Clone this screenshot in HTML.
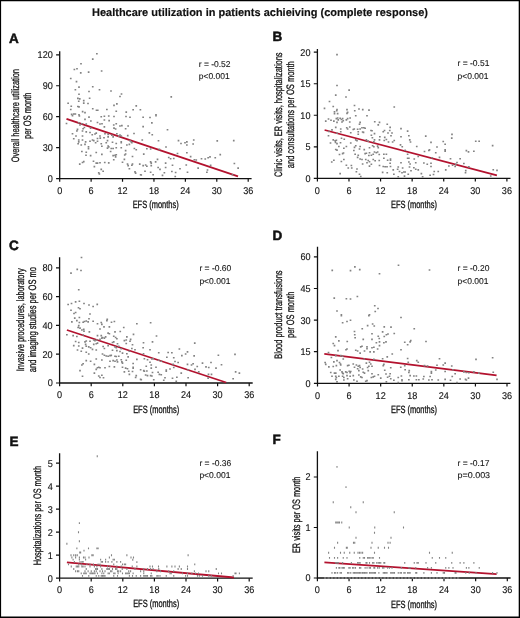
<!DOCTYPE html>
<html><head><meta charset="utf-8"><style>
html,body{margin:0;padding:0;background:#fff;}
svg{display:block;will-change:transform;}
text{font-family:"Liberation Sans", sans-serif;fill:#111;text-rendering:geometricPrecision;}
.s{stroke:#111;stroke-width:0.3px;}
.t{stroke:#222;stroke-width:0.1px;}
.d{stroke:#111;stroke-width:0.12px;}
</style></head><body>
<svg width="520" height="618" viewBox="0 0 520 618">
<rect width="520" height="618" fill="#fff"/>
<path d="M0 0H520V1.2H0zM0 0H1.1V618H0zM518.7 0H520V618H518.7zM0 616.5H520V618H0z" fill="#000"/>
<text x="92" y="16" font-size="11" font-weight="bold" stroke="#000" stroke-width="0.15" textLength="336" lengthAdjust="spacingAndGlyphs">Healthcare utilization in patients achieiving (complete response)</text>
<g><text x="9" y="42.7" font-size="13.5" font-weight="bold" stroke="#111" stroke-width="0.5">A</text><path d="M59.7 51.3V178.6H251.6" fill="none" stroke="#111" stroke-width="1.3"/><path d="M56.1 178.6H59.7M56.1 147.65H59.7M56.1 116.7H59.7M56.1 85.75H59.7M56.1 54.8H59.7M59.7 178.6V181.8M91.12 178.6V181.8M122.53 178.6V181.8M153.95 178.6V181.8M185.37 178.6V181.8M216.78 178.6V181.8M248.2 178.6V181.8" stroke="#111" stroke-width="1.2"/><text x="52.8" y="182" font-size="9.8" text-anchor="end" class="d" textLength="5.07" lengthAdjust="spacingAndGlyphs">0</text><text x="52.8" y="151.05" font-size="9.8" text-anchor="end" class="d" textLength="10.13" lengthAdjust="spacingAndGlyphs">30</text><text x="52.8" y="120.1" font-size="9.8" text-anchor="end" class="d" textLength="10.13" lengthAdjust="spacingAndGlyphs">60</text><text x="52.8" y="89.15" font-size="9.8" text-anchor="end" class="d" textLength="10.13" lengthAdjust="spacingAndGlyphs">90</text><text x="52.8" y="58.2" font-size="9.8" text-anchor="end" class="d" textLength="15.2" lengthAdjust="spacingAndGlyphs">120</text><text x="59.7" y="193.8" font-size="9.8" text-anchor="middle" class="d" textLength="5.07" lengthAdjust="spacingAndGlyphs">0</text><text x="91.12" y="193.8" font-size="9.8" text-anchor="middle" class="d" textLength="5.07" lengthAdjust="spacingAndGlyphs">6</text><text x="122.53" y="193.8" font-size="9.8" text-anchor="middle" class="d" textLength="10.13" lengthAdjust="spacingAndGlyphs">12</text><text x="153.95" y="193.8" font-size="9.8" text-anchor="middle" class="d" textLength="10.13" lengthAdjust="spacingAndGlyphs">18</text><text x="185.37" y="193.8" font-size="9.8" text-anchor="middle" class="d" textLength="10.13" lengthAdjust="spacingAndGlyphs">24</text><text x="216.78" y="193.8" font-size="9.8" text-anchor="middle" class="d" textLength="10.13" lengthAdjust="spacingAndGlyphs">30</text><text x="248.2" y="193.8" font-size="9.8" text-anchor="middle" class="d" textLength="10.13" lengthAdjust="spacingAndGlyphs">36</text><text x="155.65" y="208" font-size="10.5" text-anchor="middle" class="s" textLength="46" lengthAdjust="spacingAndGlyphs">EFS (months)</text><text transform="translate(18.8 115.65) rotate(-90)" x="0" y="0" font-size="10.8" text-anchor="middle" class="s" textLength="93.3" lengthAdjust="spacingAndGlyphs">Overall healthcare utilization</text><text transform="translate(30.9 115.75) rotate(-90)" x="0" y="0" font-size="10.8" text-anchor="middle" class="s" textLength="46.5" lengthAdjust="spacingAndGlyphs">per OS month</text><text x="198.7" y="66.8" font-size="8.5" class="t">r = -0.52</text><text x="198.7" y="78.8" font-size="8.5" class="t">p&lt;0.001</text><line x1="66.5" y1="118.8" x2="238" y2="176.3" stroke="#b3122e" stroke-width="1.8"/><path d="M96.03 52.9h1.7v1.7h-1.7zM91.9 58.27h1.7v1.7h-1.7zM80.15 62.9h1.7v1.7h-1.7zM73.53 68.65h1.7v1.7h-1.7zM76.15 67.9h1.7v1.7h-1.7zM79.9 72.03h1.7v1.7h-1.7zM87.77 71.27h1.7v1.7h-1.7zM100.77 70.15h1.7v1.7h-1.7zM69.9 77.65h1.7v1.7h-1.7zM75.65 80.77h1.7v1.7h-1.7zM78.15 86.27h1.7v1.7h-1.7zM91.9 85.9h1.7v1.7h-1.7zM74.53 88.9h1.7v1.7h-1.7zM98.65 88.9h1.7v1.7h-1.7zM88.15 90.65h1.7v1.7h-1.7zM110.15 90.15h1.7v1.7h-1.7zM120.65 93.15h1.7v1.7h-1.7zM119.15 95.65h1.7v1.7h-1.7zM78.15 93.4h1.7v1.7h-1.7zM77.03 97.53h1.7v1.7h-1.7zM78.9 98.03h1.7v1.7h-1.7zM88.77 97.4h1.7v1.7h-1.7zM67.27 102.4h1.7v1.7h-1.7zM77.9 100.4h1.7v1.7h-1.7zM82.9 99.77h1.7v1.7h-1.7zM82.9 102.27h1.7v1.7h-1.7zM87.15 102.65h1.7v1.7h-1.7zM70.4 105.4h1.7v1.7h-1.7zM77.03 105.65h1.7v1.7h-1.7zM78.15 106.03h1.7v1.7h-1.7zM113.15 104.53h1.7v1.7h-1.7zM116.03 103.03h1.7v1.7h-1.7zM91.9 107.9h1.7v1.7h-1.7zM95.65 109.4h1.7v1.7h-1.7zM96.9 109.4h1.7v1.7h-1.7zM106.03 108.65h1.7v1.7h-1.7zM69.9 108.65h1.7v1.7h-1.7zM81.77 110.77h1.7v1.7h-1.7zM84.15 111.77h1.7v1.7h-1.7zM115.4 110.4h1.7v1.7h-1.7zM70.77 113.53h1.7v1.7h-1.7zM72.9 113.15h1.7v1.7h-1.7zM74.53 113.15h1.7v1.7h-1.7zM78.15 113.9h1.7v1.7h-1.7zM170.4 96.03h1.7v1.7h-1.7zM135.4 105.03h1.7v1.7h-1.7zM132.27 108.9h1.7v1.7h-1.7zM139.53 108.9h1.7v1.7h-1.7zM125.4 111.27h1.7v1.7h-1.7zM155.15 113.9h1.7v1.7h-1.7zM78.53 115.15h1.7v1.7h-1.7zM88.15 116.27h1.7v1.7h-1.7zM100.4 115.9h1.7v1.7h-1.7zM103.53 115.4h1.7v1.7h-1.7zM107.9 115.15h1.7v1.7h-1.7zM113.15 115.65h1.7v1.7h-1.7zM71.65 114.77h1.7v1.7h-1.7zM84.15 118.53h1.7v1.7h-1.7zM90.03 120.15h1.7v1.7h-1.7zM103.53 119.15h1.7v1.7h-1.7zM108.27 119.77h1.7v1.7h-1.7zM65.65 122.65h1.7v1.7h-1.7zM77.9 121.9h1.7v1.7h-1.7zM79.15 124.15h1.7v1.7h-1.7zM81.03 122.9h1.7v1.7h-1.7zM85.4 123.15h1.7v1.7h-1.7zM96.65 121.65h1.7v1.7h-1.7zM99.15 123.15h1.7v1.7h-1.7zM101.15 122.9h1.7v1.7h-1.7zM112.9 124.15h1.7v1.7h-1.7zM115.4 122.9h1.7v1.7h-1.7zM119.15 125.15h1.7v1.7h-1.7zM121.03 124.77h1.7v1.7h-1.7zM76.65 128.53h1.7v1.7h-1.7zM76.03 130.15h1.7v1.7h-1.7zM82.27 127.9h1.7v1.7h-1.7zM83.53 126.65h1.7v1.7h-1.7zM81.65 130.15h1.7v1.7h-1.7zM89.77 127.27h1.7v1.7h-1.7zM103.53 126.03h1.7v1.7h-1.7zM113.15 127.27h1.7v1.7h-1.7zM114.77 128.15h1.7v1.7h-1.7zM71.65 132.9h1.7v1.7h-1.7zM85.4 131.03h1.7v1.7h-1.7zM89.15 131.65h1.7v1.7h-1.7zM95.4 132.27h1.7v1.7h-1.7zM94.15 133.15h1.7v1.7h-1.7zM104.15 132.9h1.7v1.7h-1.7zM107.27 133.53h1.7v1.7h-1.7zM116.03 132.9h1.7v1.7h-1.7zM119.15 134.15h1.7v1.7h-1.7zM120.4 135.15h1.7v1.7h-1.7zM75.15 135.15h1.7v1.7h-1.7zM72.9 137.9h1.7v1.7h-1.7zM81.65 135.15h1.7v1.7h-1.7zM91.4 133.9h1.7v1.7h-1.7zM99.15 135.15h1.7v1.7h-1.7zM96.65 137.65h1.7v1.7h-1.7zM99.4 137.27h1.7v1.7h-1.7zM103.15 136.9h1.7v1.7h-1.7zM107.27 136.03h1.7v1.7h-1.7zM111.03 134.4h1.7v1.7h-1.7zM112.27 136.03h1.7v1.7h-1.7zM117.9 135.4h1.7v1.7h-1.7zM77.9 139.15h1.7v1.7h-1.7zM81.65 139.15h1.7v1.7h-1.7zM77.9 141.03h1.7v1.7h-1.7zM84.77 141.03h1.7v1.7h-1.7zM89.15 140.4h1.7v1.7h-1.7zM91.65 139.15h1.7v1.7h-1.7zM92.9 139.77h1.7v1.7h-1.7zM96.65 140.4h1.7v1.7h-1.7zM106.65 139.77h1.7v1.7h-1.7zM120.4 141.03h1.7v1.7h-1.7zM77.27 142.9h1.7v1.7h-1.7zM80.4 144.15h1.7v1.7h-1.7zM84.15 143.53h1.7v1.7h-1.7zM94.77 141.9h1.7v1.7h-1.7zM100.4 142.9h1.7v1.7h-1.7zM105.4 141.9h1.7v1.7h-1.7zM111.65 141.4h1.7v1.7h-1.7zM115.4 142.65h1.7v1.7h-1.7zM120.4 141.9h1.7v1.7h-1.7zM87.65 146.03h1.7v1.7h-1.7zM87.65 147.9h1.7v1.7h-1.7zM101.03 145.4h1.7v1.7h-1.7zM106.65 147.27h1.7v1.7h-1.7zM107.9 146.03h1.7v1.7h-1.7zM107.27 145.15h1.7v1.7h-1.7zM110.4 147.65h1.7v1.7h-1.7zM112.27 147.65h1.7v1.7h-1.7zM115.4 146.9h1.7v1.7h-1.7zM120.4 146.9h1.7v1.7h-1.7zM81.03 150.65h1.7v1.7h-1.7zM85.4 151.4h1.7v1.7h-1.7zM95.4 151.65h1.7v1.7h-1.7zM109.77 150.65h1.7v1.7h-1.7zM85.15 154.4h1.7v1.7h-1.7zM89.77 154.77h1.7v1.7h-1.7zM101.03 153.53h1.7v1.7h-1.7zM112.27 154.77h1.7v1.7h-1.7zM114.15 154.4h1.7v1.7h-1.7zM115.4 153.9h1.7v1.7h-1.7zM114.77 156.03h1.7v1.7h-1.7zM123.9 154.15h1.7v1.7h-1.7zM112.9 158.9h1.7v1.7h-1.7zM123.53 158.53h1.7v1.7h-1.7zM78.9 163.27h1.7v1.7h-1.7zM81.65 161.65h1.7v1.7h-1.7zM82.9 160.77h1.7v1.7h-1.7zM92.65 160.4h1.7v1.7h-1.7zM95.4 162.27h1.7v1.7h-1.7zM96.65 162.27h1.7v1.7h-1.7zM99.15 161.9h1.7v1.7h-1.7zM103.9 161.65h1.7v1.7h-1.7zM107.9 162.03h1.7v1.7h-1.7zM121.65 161.4h1.7v1.7h-1.7zM93.53 165.77h1.7v1.7h-1.7zM100.4 168.53h1.7v1.7h-1.7zM102.27 170.4h1.7v1.7h-1.7zM97.9 171.9h1.7v1.7h-1.7zM98.53 173.15h1.7v1.7h-1.7zM125.15 115.65h1.7v1.7h-1.7zM129.15 116.4h1.7v1.7h-1.7zM142.27 116.4h1.7v1.7h-1.7zM149.15 116.65h1.7v1.7h-1.7zM155.15 114.77h1.7v1.7h-1.7zM151.03 122.03h1.7v1.7h-1.7zM127.27 125.15h1.7v1.7h-1.7zM142.27 125.77h1.7v1.7h-1.7zM124.77 127.9h1.7v1.7h-1.7zM166.65 128.9h1.7v1.7h-1.7zM133.15 132.65h1.7v1.7h-1.7zM148.53 132.03h1.7v1.7h-1.7zM151.4 133.9h1.7v1.7h-1.7zM126.9 134.77h1.7v1.7h-1.7zM141.4 139.15h1.7v1.7h-1.7zM157.65 139.9h1.7v1.7h-1.7zM177.65 139.77h1.7v1.7h-1.7zM180.15 142.65h1.7v1.7h-1.7zM184.15 141.9h1.7v1.7h-1.7zM186.03 141.03h1.7v1.7h-1.7zM186.03 144.15h1.7v1.7h-1.7zM129.15 139.77h1.7v1.7h-1.7zM130.4 141.03h1.7v1.7h-1.7zM131.03 141.9h1.7v1.7h-1.7zM126.03 144.15h1.7v1.7h-1.7zM128.53 143.53h1.7v1.7h-1.7zM133.53 147.65h1.7v1.7h-1.7zM135.4 148.9h1.7v1.7h-1.7zM146.03 147.9h1.7v1.7h-1.7zM149.77 148.15h1.7v1.7h-1.7zM158.53 148.53h1.7v1.7h-1.7zM165.15 146.15h1.7v1.7h-1.7zM124.77 149.77h1.7v1.7h-1.7zM142.9 153.27h1.7v1.7h-1.7zM124.77 153.15h1.7v1.7h-1.7zM131.65 155.65h1.7v1.7h-1.7zM176.65 152.65h1.7v1.7h-1.7zM186.03 151.9h1.7v1.7h-1.7zM167.9 156.65h1.7v1.7h-1.7zM169.77 157.9h1.7v1.7h-1.7zM172.9 157.65h1.7v1.7h-1.7zM156.65 158.53h1.7v1.7h-1.7zM154.77 161.03h1.7v1.7h-1.7zM149.77 161.03h1.7v1.7h-1.7zM150.4 162.27h1.7v1.7h-1.7zM126.65 163.15h1.7v1.7h-1.7zM131.65 163.15h1.7v1.7h-1.7zM127.27 164.77h1.7v1.7h-1.7zM131.03 164.4h1.7v1.7h-1.7zM138.9 163.27h1.7v1.7h-1.7zM142.27 164.77h1.7v1.7h-1.7zM144.77 164.15h1.7v1.7h-1.7zM146.03 165.4h1.7v1.7h-1.7zM150.4 164.77h1.7v1.7h-1.7zM164.77 162.27h1.7v1.7h-1.7zM171.65 164.4h1.7v1.7h-1.7zM185.4 164.15h1.7v1.7h-1.7zM128.53 167.9h1.7v1.7h-1.7zM157.27 166.65h1.7v1.7h-1.7zM164.77 166.65h1.7v1.7h-1.7zM159.15 168.53h1.7v1.7h-1.7zM179.15 167.9h1.7v1.7h-1.7zM134.15 171.03h1.7v1.7h-1.7zM134.77 172.27h1.7v1.7h-1.7zM144.15 170.4h1.7v1.7h-1.7zM149.77 171.4h1.7v1.7h-1.7zM163.53 171.9h1.7v1.7h-1.7zM171.03 170.65h1.7v1.7h-1.7zM174.77 171.65h1.7v1.7h-1.7zM186.65 171.4h1.7v1.7h-1.7zM139.77 173.9h1.7v1.7h-1.7zM140.4 174.15h1.7v1.7h-1.7zM161.65 174.53h1.7v1.7h-1.7zM174.4 175.65h1.7v1.7h-1.7zM152.27 173.9h1.7v1.7h-1.7zM192.9 139.15h1.7v1.7h-1.7zM192.27 143.15h1.7v1.7h-1.7zM216.4 140.03h1.7v1.7h-1.7zM232.9 139.77h1.7v1.7h-1.7zM189.77 155.77h1.7v1.7h-1.7zM193.53 158.9h1.7v1.7h-1.7zM195.4 159.15h1.7v1.7h-1.7zM200.65 157.9h1.7v1.7h-1.7zM204.4 158.15h1.7v1.7h-1.7zM207.27 156.9h1.7v1.7h-1.7zM209.15 156.03h1.7v1.7h-1.7zM214.4 156.9h1.7v1.7h-1.7zM219.4 153.77h1.7v1.7h-1.7zM197.27 167.27h1.7v1.7h-1.7zM206.65 169.15h1.7v1.7h-1.7zM206.03 171.4h1.7v1.7h-1.7zM209.77 164.53h1.7v1.7h-1.7zM233.53 162.65h1.7v1.7h-1.7zM237.27 167.27h1.7v1.7h-1.7zM231.65 173.9h1.7v1.7h-1.7z" fill="#838383"/></g>
<g><text x="272.6" y="40.5" font-size="13.5" font-weight="bold" stroke="#111" stroke-width="0.5">B</text><path d="M317.4 49.1V178.3H510.5" fill="none" stroke="#111" stroke-width="1.3"/><path d="M313.8 178.3H317.4M313.8 146.78H317.4M313.8 115.25H317.4M313.8 83.73H317.4M313.8 52.2H317.4M317.4 178.3V181.5M348.98 178.3V181.5M380.57 178.3V181.5M412.15 178.3V181.5M443.73 178.3V181.5M475.32 178.3V181.5M506.9 178.3V181.5" stroke="#111" stroke-width="1.2"/><text x="310.5" y="181.7" font-size="9.8" text-anchor="end" class="d" textLength="5.07" lengthAdjust="spacingAndGlyphs">0</text><text x="310.5" y="150.18" font-size="9.8" text-anchor="end" class="d" textLength="5.07" lengthAdjust="spacingAndGlyphs">5</text><text x="310.5" y="118.65" font-size="9.8" text-anchor="end" class="d" textLength="10.13" lengthAdjust="spacingAndGlyphs">10</text><text x="310.5" y="87.13" font-size="9.8" text-anchor="end" class="d" textLength="10.13" lengthAdjust="spacingAndGlyphs">15</text><text x="310.5" y="55.6" font-size="9.8" text-anchor="end" class="d" textLength="10.13" lengthAdjust="spacingAndGlyphs">20</text><text x="317.4" y="193.5" font-size="9.8" text-anchor="middle" class="d" textLength="5.07" lengthAdjust="spacingAndGlyphs">0</text><text x="348.98" y="193.5" font-size="9.8" text-anchor="middle" class="d" textLength="5.07" lengthAdjust="spacingAndGlyphs">6</text><text x="380.57" y="193.5" font-size="9.8" text-anchor="middle" class="d" textLength="10.13" lengthAdjust="spacingAndGlyphs">12</text><text x="412.15" y="193.5" font-size="9.8" text-anchor="middle" class="d" textLength="10.13" lengthAdjust="spacingAndGlyphs">18</text><text x="443.73" y="193.5" font-size="9.8" text-anchor="middle" class="d" textLength="10.13" lengthAdjust="spacingAndGlyphs">24</text><text x="475.32" y="193.5" font-size="9.8" text-anchor="middle" class="d" textLength="10.13" lengthAdjust="spacingAndGlyphs">30</text><text x="506.9" y="193.5" font-size="9.8" text-anchor="middle" class="d" textLength="10.13" lengthAdjust="spacingAndGlyphs">36</text><text x="413.95" y="207.8" font-size="10.5" text-anchor="middle" class="s" textLength="46" lengthAdjust="spacingAndGlyphs">EFS (months)</text><text transform="translate(281.8 114.75) rotate(-90)" x="0" y="0" font-size="10.8" text-anchor="middle" class="s" textLength="124.5" lengthAdjust="spacingAndGlyphs">Clinic visits, ER visits, hospitalizations</text><text transform="translate(293.9 114.75) rotate(-90)" x="0" y="0" font-size="10.8" text-anchor="middle" class="s" textLength="106.9" lengthAdjust="spacingAndGlyphs">and consultations per OS month</text><text x="457.5" y="66.1" font-size="8.5" class="t">r = -0.51</text><text x="457.5" y="78.8" font-size="8.5" class="t">p&lt;0.001</text><line x1="324.6" y1="130" x2="496.9" y2="175.4" stroke="#b3122e" stroke-width="1.8"/><path d="M336.15 53.77h1.7v1.7h-1.7zM336.15 84.65h1.7v1.7h-1.7zM348.27 89.27h1.7v1.7h-1.7zM334.9 94.27h1.7v1.7h-1.7zM345.15 96.15h1.7v1.7h-1.7zM328.65 100.65h1.7v1.7h-1.7zM332.4 105.65h1.7v1.7h-1.7zM353.65 104.65h1.7v1.7h-1.7zM323.65 107.53h1.7v1.7h-1.7zM336.15 108.65h1.7v1.7h-1.7zM335.9 109.9h1.7v1.7h-1.7zM333.65 110.9h1.7v1.7h-1.7zM346.15 108.77h1.7v1.7h-1.7zM346.77 111.53h1.7v1.7h-1.7zM353.9 109.9h1.7v1.7h-1.7zM358.15 108.15h1.7v1.7h-1.7zM361.9 108.77h1.7v1.7h-1.7zM368.15 109.27h1.7v1.7h-1.7zM393.4 106.15h1.7v1.7h-1.7zM457.4 79.4h1.7v1.7h-1.7zM451.15 133.53h1.7v1.7h-1.7zM450.9 137.27h1.7v1.7h-1.7zM474.9 140.4h1.7v1.7h-1.7zM478.27 140.4h1.7v1.7h-1.7zM333.65 112.77h1.7v1.7h-1.7zM336.77 112.77h1.7v1.7h-1.7zM346.15 112.53h1.7v1.7h-1.7zM354.9 114.9h1.7v1.7h-1.7zM366.15 114.9h1.7v1.7h-1.7zM324.9 120.27h1.7v1.7h-1.7zM327.65 118.15h1.7v1.7h-1.7zM330.15 119.4h1.7v1.7h-1.7zM333.03 120.27h1.7v1.7h-1.7zM335.53 117.77h1.7v1.7h-1.7zM336.77 117.15h1.7v1.7h-1.7zM337.4 119.03h1.7v1.7h-1.7zM339.27 117.4h1.7v1.7h-1.7zM340.53 118.65h1.7v1.7h-1.7zM341.77 117.77h1.7v1.7h-1.7zM342.4 119.9h1.7v1.7h-1.7zM341.15 121.15h1.7v1.7h-1.7zM345.53 119.03h1.7v1.7h-1.7zM346.77 117.77h1.7v1.7h-1.7zM349.27 117.15h1.7v1.7h-1.7zM348.9 121.15h1.7v1.7h-1.7zM336.15 121.53h1.7v1.7h-1.7zM359.27 121.53h1.7v1.7h-1.7zM358.65 123.4h1.7v1.7h-1.7zM373.9 120.9h1.7v1.7h-1.7zM377.4 124.03h1.7v1.7h-1.7zM378.65 121.53h1.7v1.7h-1.7zM334.9 126.53h1.7v1.7h-1.7zM331.15 129.03h1.7v1.7h-1.7zM339.9 128.15h1.7v1.7h-1.7zM345.9 126.9h1.7v1.7h-1.7zM346.77 128.15h1.7v1.7h-1.7zM348.9 126.15h1.7v1.7h-1.7zM352.4 128.65h1.7v1.7h-1.7zM353.4 128.15h1.7v1.7h-1.7zM356.77 128.4h1.7v1.7h-1.7zM357.4 130.9h1.7v1.7h-1.7zM359.27 128.15h1.7v1.7h-1.7zM361.15 126.9h1.7v1.7h-1.7zM363.03 126.9h1.7v1.7h-1.7zM364.27 127.4h1.7v1.7h-1.7zM361.77 131.15h1.7v1.7h-1.7zM362.65 131.53h1.7v1.7h-1.7zM370.15 129.65h1.7v1.7h-1.7zM371.15 129.9h1.7v1.7h-1.7zM328.03 130.65h1.7v1.7h-1.7zM336.15 132.4h1.7v1.7h-1.7zM339.9 130.9h1.7v1.7h-1.7zM349.9 131.9h1.7v1.7h-1.7zM327.65 134.9h1.7v1.7h-1.7zM340.65 137.4h1.7v1.7h-1.7zM343.4 138.4h1.7v1.7h-1.7zM370.53 134.4h1.7v1.7h-1.7zM373.65 132.77h1.7v1.7h-1.7zM371.53 136.9h1.7v1.7h-1.7zM379.03 135.9h1.7v1.7h-1.7zM357.4 133.4h1.7v1.7h-1.7zM332.4 139.03h1.7v1.7h-1.7zM334.27 139.9h1.7v1.7h-1.7zM335.53 139.4h1.7v1.7h-1.7zM334.65 141.53h1.7v1.7h-1.7zM336.15 142.77h1.7v1.7h-1.7zM329.65 142.15h1.7v1.7h-1.7zM339.65 141.9h1.7v1.7h-1.7zM349.9 142.15h1.7v1.7h-1.7zM354.9 139.03h1.7v1.7h-1.7zM356.15 139.9h1.7v1.7h-1.7zM365.53 139.03h1.7v1.7h-1.7zM367.4 140.27h1.7v1.7h-1.7zM373.65 139.03h1.7v1.7h-1.7zM373.03 140.9h1.7v1.7h-1.7zM378.65 139.03h1.7v1.7h-1.7zM338.03 145.65h1.7v1.7h-1.7zM343.03 147.4h1.7v1.7h-1.7zM345.53 145.65h1.7v1.7h-1.7zM353.65 146.53h1.7v1.7h-1.7zM354.9 144.9h1.7v1.7h-1.7zM359.27 145.65h1.7v1.7h-1.7zM358.65 148.15h1.7v1.7h-1.7zM363.4 148.77h1.7v1.7h-1.7zM368.65 146.9h1.7v1.7h-1.7zM371.77 144.9h1.7v1.7h-1.7zM373.03 145.9h1.7v1.7h-1.7zM376.77 145.27h1.7v1.7h-1.7zM377.4 146.9h1.7v1.7h-1.7zM334.9 148.65h1.7v1.7h-1.7zM336.15 149.27h1.7v1.7h-1.7zM353.03 149.65h1.7v1.7h-1.7zM338.65 153.65h1.7v1.7h-1.7zM341.77 152.77h1.7v1.7h-1.7zM342.65 152.15h1.7v1.7h-1.7zM354.27 153.4h1.7v1.7h-1.7zM357.4 154.4h1.7v1.7h-1.7zM364.27 152.77h1.7v1.7h-1.7zM365.53 152.4h1.7v1.7h-1.7zM368.65 151.9h1.7v1.7h-1.7zM370.53 154.4h1.7v1.7h-1.7zM372.4 153.4h1.7v1.7h-1.7zM373.65 151.15h1.7v1.7h-1.7zM375.53 151.9h1.7v1.7h-1.7zM376.77 151.15h1.7v1.7h-1.7zM378.4 153.65h1.7v1.7h-1.7zM368.03 154.65h1.7v1.7h-1.7zM356.77 156.53h1.7v1.7h-1.7zM359.27 158.15h1.7v1.7h-1.7zM361.15 158.65h1.7v1.7h-1.7zM364.9 158.65h1.7v1.7h-1.7zM367.4 159.65h1.7v1.7h-1.7zM372.4 158.65h1.7v1.7h-1.7zM374.27 159.9h1.7v1.7h-1.7zM378.4 159.65h1.7v1.7h-1.7zM343.03 158.65h1.7v1.7h-1.7zM340.53 160.65h1.7v1.7h-1.7zM330.9 161.15h1.7v1.7h-1.7zM333.03 159.4h1.7v1.7h-1.7zM366.15 161.9h1.7v1.7h-1.7zM368.65 160.9h1.7v1.7h-1.7zM361.77 163.15h1.7v1.7h-1.7zM370.53 163.4h1.7v1.7h-1.7zM345.53 164.4h1.7v1.7h-1.7zM347.4 167.15h1.7v1.7h-1.7zM350.53 164.65h1.7v1.7h-1.7zM350.9 167.15h1.7v1.7h-1.7zM356.15 168.15h1.7v1.7h-1.7zM355.53 170.9h1.7v1.7h-1.7zM358.65 173.4h1.7v1.7h-1.7zM359.9 175.65h1.7v1.7h-1.7zM339.27 172.77h1.7v1.7h-1.7zM368.65 165.27h1.7v1.7h-1.7zM378.65 164.65h1.7v1.7h-1.7zM386.4 123.4h1.7v1.7h-1.7zM389.27 126.53h1.7v1.7h-1.7zM382.4 130.9h1.7v1.7h-1.7zM383.65 129.65h1.7v1.7h-1.7zM387.15 132.15h1.7v1.7h-1.7zM388.9 129.65h1.7v1.7h-1.7zM391.15 132.15h1.7v1.7h-1.7zM390.15 134.9h1.7v1.7h-1.7zM383.9 136.53h1.7v1.7h-1.7zM383.4 139.65h1.7v1.7h-1.7zM385.53 138.65h1.7v1.7h-1.7zM387.65 141.15h1.7v1.7h-1.7zM391.77 141.15h1.7v1.7h-1.7zM393.4 139.65h1.7v1.7h-1.7zM400.15 127.77h1.7v1.7h-1.7zM400.15 135.9h1.7v1.7h-1.7zM406.77 130.27h1.7v1.7h-1.7zM408.03 134.9h1.7v1.7h-1.7zM408.9 139.03h1.7v1.7h-1.7zM409.65 141.15h1.7v1.7h-1.7zM424.9 135.27h1.7v1.7h-1.7zM399.65 144.03h1.7v1.7h-1.7zM401.4 145.9h1.7v1.7h-1.7zM404.27 149.4h1.7v1.7h-1.7zM415.9 145.65h1.7v1.7h-1.7zM430.15 141.53h1.7v1.7h-1.7zM436.15 146.15h1.7v1.7h-1.7zM442.4 140.65h1.7v1.7h-1.7zM444.27 143.4h1.7v1.7h-1.7zM444.27 149.03h1.7v1.7h-1.7zM444.27 150.27h1.7v1.7h-1.7zM423.65 150.65h1.7v1.7h-1.7zM428.03 149.65h1.7v1.7h-1.7zM428.65 149.03h1.7v1.7h-1.7zM434.9 151.9h1.7v1.7h-1.7zM406.77 153.4h1.7v1.7h-1.7zM417.4 155.65h1.7v1.7h-1.7zM438.65 156.53h1.7v1.7h-1.7zM431.15 156.9h1.7v1.7h-1.7zM383.03 153.4h1.7v1.7h-1.7zM385.53 153.4h1.7v1.7h-1.7zM383.03 157.4h1.7v1.7h-1.7zM386.77 159.4h1.7v1.7h-1.7zM389.65 158.15h1.7v1.7h-1.7zM389.65 159.4h1.7v1.7h-1.7zM406.77 157.4h1.7v1.7h-1.7zM408.03 157.4h1.7v1.7h-1.7zM413.4 158.15h1.7v1.7h-1.7zM400.15 161.9h1.7v1.7h-1.7zM408.03 161.15h1.7v1.7h-1.7zM409.27 163.15h1.7v1.7h-1.7zM414.9 161.9h1.7v1.7h-1.7zM423.03 162.15h1.7v1.7h-1.7zM426.4 163.4h1.7v1.7h-1.7zM430.15 162.4h1.7v1.7h-1.7zM430.15 165.65h1.7v1.7h-1.7zM389.27 162.4h1.7v1.7h-1.7zM389.65 165.65h1.7v1.7h-1.7zM382.4 165.65h1.7v1.7h-1.7zM384.27 165.9h1.7v1.7h-1.7zM386.15 165.9h1.7v1.7h-1.7zM397.4 166.15h1.7v1.7h-1.7zM396.77 168.4h1.7v1.7h-1.7zM401.77 167.15h1.7v1.7h-1.7zM408.65 166.15h1.7v1.7h-1.7zM413.03 166.9h1.7v1.7h-1.7zM414.9 168.4h1.7v1.7h-1.7zM417.4 169.03h1.7v1.7h-1.7zM392.4 169.03h1.7v1.7h-1.7zM398.65 170.65h1.7v1.7h-1.7zM401.15 171.9h1.7v1.7h-1.7zM403.03 171.15h1.7v1.7h-1.7zM404.27 171.15h1.7v1.7h-1.7zM410.15 169.9h1.7v1.7h-1.7zM433.4 170.65h1.7v1.7h-1.7zM437.4 170.65h1.7v1.7h-1.7zM444.9 169.03h1.7v1.7h-1.7zM381.77 171.53h1.7v1.7h-1.7zM386.4 171.9h1.7v1.7h-1.7zM393.03 173.4h1.7v1.7h-1.7zM407.4 173.4h1.7v1.7h-1.7zM403.65 175.27h1.7v1.7h-1.7zM397.4 175.9h1.7v1.7h-1.7zM420.53 172.77h1.7v1.7h-1.7zM421.77 175.9h1.7v1.7h-1.7zM429.27 174.4h1.7v1.7h-1.7zM432.65 173.65h1.7v1.7h-1.7zM491.77 144.77h1.7v1.7h-1.7zM465.53 149.77h1.7v1.7h-1.7zM467.65 151.03h1.7v1.7h-1.7zM473.03 150.4h1.7v1.7h-1.7zM449.65 157.9h1.7v1.7h-1.7zM459.27 157.9h1.7v1.7h-1.7zM463.03 162.65h1.7v1.7h-1.7zM448.03 165.15h1.7v1.7h-1.7zM451.77 164.4h1.7v1.7h-1.7zM454.27 165.65h1.7v1.7h-1.7zM456.15 161.65h1.7v1.7h-1.7zM454.9 163.53h1.7v1.7h-1.7zM468.03 166.03h1.7v1.7h-1.7zM464.9 169.77h1.7v1.7h-1.7zM464.65 171.9h1.7v1.7h-1.7zM492.4 168.9h1.7v1.7h-1.7zM496.15 169.53h1.7v1.7h-1.7zM489.9 175.15h1.7v1.7h-1.7z" fill="#838383"/></g>
<g><text x="9" y="249.9" font-size="13.5" font-weight="bold" stroke="#111" stroke-width="0.5">C</text><path d="M59.6 257.2V383H252.7" fill="none" stroke="#111" stroke-width="1.3"/><path d="M56 383H59.6M56 354.2H59.6M56 325.4H59.6M56 296.6H59.6M56 267.8H59.6M59.6 383V386.2M91.2 383V386.2M122.8 383V386.2M154.4 383V386.2M186 383V386.2M217.6 383V386.2M249.2 383V386.2" stroke="#111" stroke-width="1.2"/><text x="52.7" y="386.4" font-size="9.8" text-anchor="end" class="d" textLength="5.07" lengthAdjust="spacingAndGlyphs">0</text><text x="52.7" y="357.6" font-size="9.8" text-anchor="end" class="d" textLength="10.13" lengthAdjust="spacingAndGlyphs">20</text><text x="52.7" y="328.8" font-size="9.8" text-anchor="end" class="d" textLength="10.13" lengthAdjust="spacingAndGlyphs">40</text><text x="52.7" y="300" font-size="9.8" text-anchor="end" class="d" textLength="10.13" lengthAdjust="spacingAndGlyphs">60</text><text x="52.7" y="271.2" font-size="9.8" text-anchor="end" class="d" textLength="10.13" lengthAdjust="spacingAndGlyphs">80</text><text x="59.6" y="398.2" font-size="9.8" text-anchor="middle" class="d" textLength="5.07" lengthAdjust="spacingAndGlyphs">0</text><text x="91.2" y="398.2" font-size="9.8" text-anchor="middle" class="d" textLength="5.07" lengthAdjust="spacingAndGlyphs">6</text><text x="122.8" y="398.2" font-size="9.8" text-anchor="middle" class="d" textLength="10.13" lengthAdjust="spacingAndGlyphs">12</text><text x="154.4" y="398.2" font-size="9.8" text-anchor="middle" class="d" textLength="10.13" lengthAdjust="spacingAndGlyphs">18</text><text x="186" y="398.2" font-size="9.8" text-anchor="middle" class="d" textLength="10.13" lengthAdjust="spacingAndGlyphs">24</text><text x="217.6" y="398.2" font-size="9.8" text-anchor="middle" class="d" textLength="10.13" lengthAdjust="spacingAndGlyphs">30</text><text x="249.2" y="398.2" font-size="9.8" text-anchor="middle" class="d" textLength="10.13" lengthAdjust="spacingAndGlyphs">36</text><text x="156.15" y="413" font-size="10.5" text-anchor="middle" class="s" textLength="46" lengthAdjust="spacingAndGlyphs">EFS (months)</text><text transform="translate(23.8 319.8) rotate(-90)" x="0" y="0" font-size="10.8" text-anchor="middle" class="s" textLength="102.8" lengthAdjust="spacingAndGlyphs">Invasive procedures, laboratory</text><text transform="translate(35.9 319.65) rotate(-90)" x="0" y="0" font-size="10.8" text-anchor="middle" class="s" textLength="105.1" lengthAdjust="spacingAndGlyphs">and imaging studies per OS mo</text><text x="199.4" y="270.7" font-size="8.5" class="t">r = -0.60</text><text x="199.4" y="283.7" font-size="8.5" class="t">p&lt;0.001</text><line x1="66.9" y1="330" x2="226.2" y2="382.5" stroke="#b3122e" stroke-width="1.8"/><path d="M80.65 256.65h1.7v1.7h-1.7zM76.4 268.53h1.7v1.7h-1.7zM80.15 269.65h1.7v1.7h-1.7zM70.15 272.27h1.7v1.7h-1.7zM77.9 288.9h1.7v1.7h-1.7zM67.27 303.65h1.7v1.7h-1.7zM70.65 302.65h1.7v1.7h-1.7zM74.77 301.03h1.7v1.7h-1.7zM78.53 300.4h1.7v1.7h-1.7zM83.15 302.65h1.7v1.7h-1.7zM88.15 304.15h1.7v1.7h-1.7zM92.27 305.65h1.7v1.7h-1.7zM96.4 303.53h1.7v1.7h-1.7zM77.65 306.9h1.7v1.7h-1.7zM79.15 307.9h1.7v1.7h-1.7zM70.15 309.4h1.7v1.7h-1.7zM73.15 312.65h1.7v1.7h-1.7zM74.77 311.65h1.7v1.7h-1.7zM89.15 313.15h1.7v1.7h-1.7zM73.9 317.27h1.7v1.7h-1.7zM78.53 316.65h1.7v1.7h-1.7zM88.15 317.9h1.7v1.7h-1.7zM106.4 318.53h1.7v1.7h-1.7zM71.03 321.03h1.7v1.7h-1.7zM76.03 319.77h1.7v1.7h-1.7zM78.53 321.65h1.7v1.7h-1.7zM82.27 321.4h1.7v1.7h-1.7zM83.53 320.65h1.7v1.7h-1.7zM85.4 320.15h1.7v1.7h-1.7zM87.27 321.03h1.7v1.7h-1.7zM92.27 320.4h1.7v1.7h-1.7zM96.65 322.9h1.7v1.7h-1.7zM100.4 321.65h1.7v1.7h-1.7zM101.03 323.53h1.7v1.7h-1.7zM106.03 319.77h1.7v1.7h-1.7zM110.65 321.4h1.7v1.7h-1.7zM113.53 320.65h1.7v1.7h-1.7zM77.9 324.77h1.7v1.7h-1.7zM77.27 326.65h1.7v1.7h-1.7zM79.15 327.27h1.7v1.7h-1.7zM81.03 329.15h1.7v1.7h-1.7zM82.9 328.53h1.7v1.7h-1.7zM83.15 330.4h1.7v1.7h-1.7zM88.53 331.03h1.7v1.7h-1.7zM99.15 328.15h1.7v1.7h-1.7zM103.15 326.03h1.7v1.7h-1.7zM108.53 326.03h1.7v1.7h-1.7zM114.15 331.03h1.7v1.7h-1.7zM119.4 330.65h1.7v1.7h-1.7zM122.9 326.65h1.7v1.7h-1.7zM66.03 333.9h1.7v1.7h-1.7zM72.27 334.77h1.7v1.7h-1.7zM76.03 335.65h1.7v1.7h-1.7zM82.27 334.15h1.7v1.7h-1.7zM96.65 334.77h1.7v1.7h-1.7zM100.4 334.77h1.7v1.7h-1.7zM101.65 336.65h1.7v1.7h-1.7zM103.53 337.27h1.7v1.7h-1.7zM104.77 336.03h1.7v1.7h-1.7zM107.27 332.27h1.7v1.7h-1.7zM108.53 332.9h1.7v1.7h-1.7zM112.9 335.4h1.7v1.7h-1.7zM114.77 336.65h1.7v1.7h-1.7zM116.03 337.9h1.7v1.7h-1.7zM74.77 340.65h1.7v1.7h-1.7zM77.9 341.65h1.7v1.7h-1.7zM84.15 341.03h1.7v1.7h-1.7zM85.4 340.15h1.7v1.7h-1.7zM89.15 340.4h1.7v1.7h-1.7zM92.9 339.15h1.7v1.7h-1.7zM94.15 339.77h1.7v1.7h-1.7zM96.03 339.15h1.7v1.7h-1.7zM99.15 338.53h1.7v1.7h-1.7zM101.03 337.27h1.7v1.7h-1.7zM111.65 341.65h1.7v1.7h-1.7zM112.9 341.03h1.7v1.7h-1.7zM116.65 342.9h1.7v1.7h-1.7zM123.53 339.77h1.7v1.7h-1.7zM72.9 344.77h1.7v1.7h-1.7zM77.9 345.15h1.7v1.7h-1.7zM81.65 347.27h1.7v1.7h-1.7zM84.77 343.53h1.7v1.7h-1.7zM85.4 345.4h1.7v1.7h-1.7zM87.9 346.03h1.7v1.7h-1.7zM89.77 346.9h1.7v1.7h-1.7zM92.9 343.53h1.7v1.7h-1.7zM95.4 342.9h1.7v1.7h-1.7zM96.65 342.27h1.7v1.7h-1.7zM102.27 345.65h1.7v1.7h-1.7zM107.27 344.77h1.7v1.7h-1.7zM114.15 346.03h1.7v1.7h-1.7zM115.4 346.9h1.7v1.7h-1.7zM117.9 345.4h1.7v1.7h-1.7zM120.4 347.9h1.7v1.7h-1.7zM76.65 349.15h1.7v1.7h-1.7zM80.4 350.4h1.7v1.7h-1.7zM85.4 351.4h1.7v1.7h-1.7zM91.65 348.53h1.7v1.7h-1.7zM95.4 349.15h1.7v1.7h-1.7zM103.53 347.65h1.7v1.7h-1.7zM111.65 349.4h1.7v1.7h-1.7zM116.03 349.77h1.7v1.7h-1.7zM119.15 350.65h1.7v1.7h-1.7zM121.65 352.27h1.7v1.7h-1.7zM87.9 353.15h1.7v1.7h-1.7zM101.65 353.15h1.7v1.7h-1.7zM103.53 354.4h1.7v1.7h-1.7zM105.4 355.15h1.7v1.7h-1.7zM107.27 355.4h1.7v1.7h-1.7zM109.15 354.77h1.7v1.7h-1.7zM110.4 354.53h1.7v1.7h-1.7zM114.15 355.4h1.7v1.7h-1.7zM115.4 355.65h1.7v1.7h-1.7zM117.9 355.4h1.7v1.7h-1.7zM120.4 358.9h1.7v1.7h-1.7zM95.4 358.15h1.7v1.7h-1.7zM101.03 359.15h1.7v1.7h-1.7zM85.4 359.77h1.7v1.7h-1.7zM89.77 360.4h1.7v1.7h-1.7zM93.53 363.53h1.7v1.7h-1.7zM82.27 362.9h1.7v1.7h-1.7zM81.03 364.15h1.7v1.7h-1.7zM109.15 360.4h1.7v1.7h-1.7zM112.27 359.77h1.7v1.7h-1.7zM114.15 360.4h1.7v1.7h-1.7zM116.03 359.15h1.7v1.7h-1.7zM116.65 361.03h1.7v1.7h-1.7zM121.03 361.03h1.7v1.7h-1.7zM121.65 362.27h1.7v1.7h-1.7zM96.65 366.9h1.7v1.7h-1.7zM97.9 366.4h1.7v1.7h-1.7zM99.15 366.9h1.7v1.7h-1.7zM104.15 366.9h1.7v1.7h-1.7zM108.53 365.65h1.7v1.7h-1.7zM113.53 366.03h1.7v1.7h-1.7zM121.65 366.4h1.7v1.7h-1.7zM79.15 369.77h1.7v1.7h-1.7zM95.4 368.53h1.7v1.7h-1.7zM93.53 372.27h1.7v1.7h-1.7zM81.65 375.4h1.7v1.7h-1.7zM97.9 375.15h1.7v1.7h-1.7zM99.15 376.65h1.7v1.7h-1.7zM101.03 374.4h1.7v1.7h-1.7zM102.65 376.9h1.7v1.7h-1.7zM123.53 371.03h1.7v1.7h-1.7zM136.03 322.9h1.7v1.7h-1.7zM149.77 321.9h1.7v1.7h-1.7zM132.65 333.53h1.7v1.7h-1.7zM126.03 336.03h1.7v1.7h-1.7zM125.4 339.15h1.7v1.7h-1.7zM129.77 338.53h1.7v1.7h-1.7zM129.15 340.4h1.7v1.7h-1.7zM125.4 342.65h1.7v1.7h-1.7zM131.65 343.9h1.7v1.7h-1.7zM142.65 341.9h1.7v1.7h-1.7zM151.65 341.03h1.7v1.7h-1.7zM155.65 335.15h1.7v1.7h-1.7zM142.27 346.9h1.7v1.7h-1.7zM131.03 347.65h1.7v1.7h-1.7zM134.15 348.9h1.7v1.7h-1.7zM149.15 348.9h1.7v1.7h-1.7zM126.03 352.9h1.7v1.7h-1.7zM127.27 356.03h1.7v1.7h-1.7zM128.53 350.4h1.7v1.7h-1.7zM125.4 359.4h1.7v1.7h-1.7zM136.03 358.53h1.7v1.7h-1.7zM142.65 352.9h1.7v1.7h-1.7zM143.53 357.9h1.7v1.7h-1.7zM146.65 358.9h1.7v1.7h-1.7zM151.03 358.15h1.7v1.7h-1.7zM152.27 357.9h1.7v1.7h-1.7zM157.9 351.9h1.7v1.7h-1.7zM167.27 351.65h1.7v1.7h-1.7zM171.03 351.9h1.7v1.7h-1.7zM178.53 348.15h1.7v1.7h-1.7zM186.65 351.03h1.7v1.7h-1.7zM184.77 353.15h1.7v1.7h-1.7zM181.03 354.77h1.7v1.7h-1.7zM166.03 356.4h1.7v1.7h-1.7zM172.9 356.9h1.7v1.7h-1.7zM174.15 360.65h1.7v1.7h-1.7zM177.27 361.65h1.7v1.7h-1.7zM157.9 359.4h1.7v1.7h-1.7zM160.4 360.4h1.7v1.7h-1.7zM186.65 363.53h1.7v1.7h-1.7zM132.27 362.65h1.7v1.7h-1.7zM132.27 366.4h1.7v1.7h-1.7zM132.27 367.27h1.7v1.7h-1.7zM145.4 365.4h1.7v1.7h-1.7zM149.15 361.4h1.7v1.7h-1.7zM150.4 364.15h1.7v1.7h-1.7zM150.4 367.27h1.7v1.7h-1.7zM155.15 366.4h1.7v1.7h-1.7zM172.27 363.53h1.7v1.7h-1.7zM172.9 366.65h1.7v1.7h-1.7zM169.15 368.15h1.7v1.7h-1.7zM165.4 369.15h1.7v1.7h-1.7zM165.4 370.4h1.7v1.7h-1.7zM124.77 367.27h1.7v1.7h-1.7zM126.65 367.9h1.7v1.7h-1.7zM127.9 370.4h1.7v1.7h-1.7zM131.65 370.65h1.7v1.7h-1.7zM139.77 368.9h1.7v1.7h-1.7zM142.9 369.77h1.7v1.7h-1.7zM143.53 370.4h1.7v1.7h-1.7zM146.03 370.15h1.7v1.7h-1.7zM151.65 371.65h1.7v1.7h-1.7zM157.27 371.4h1.7v1.7h-1.7zM158.53 373.53h1.7v1.7h-1.7zM160.4 373.9h1.7v1.7h-1.7zM180.4 372.27h1.7v1.7h-1.7zM187.27 368.9h1.7v1.7h-1.7zM128.53 373.53h1.7v1.7h-1.7zM135.4 374.77h1.7v1.7h-1.7zM134.77 376.65h1.7v1.7h-1.7zM144.77 374.15h1.7v1.7h-1.7zM146.65 374.77h1.7v1.7h-1.7zM149.77 374.77h1.7v1.7h-1.7zM151.03 375.15h1.7v1.7h-1.7zM140.4 378.9h1.7v1.7h-1.7zM139.77 378.53h1.7v1.7h-1.7zM152.9 378.9h1.7v1.7h-1.7zM164.15 376.9h1.7v1.7h-1.7zM171.65 377.4h1.7v1.7h-1.7zM176.03 376.4h1.7v1.7h-1.7zM175.4 380.4h1.7v1.7h-1.7zM162.9 379.4h1.7v1.7h-1.7zM187.27 376.9h1.7v1.7h-1.7zM193.9 342.27h1.7v1.7h-1.7zM193.27 355.03h1.7v1.7h-1.7zM217.53 354.4h1.7v1.7h-1.7zM234.15 353.53h1.7v1.7h-1.7zM190.65 364.15h1.7v1.7h-1.7zM192.27 362.9h1.7v1.7h-1.7zM201.65 362.27h1.7v1.7h-1.7zM210.15 361.65h1.7v1.7h-1.7zM220.65 363.9h1.7v1.7h-1.7zM196.4 365.65h1.7v1.7h-1.7zM205.15 366.03h1.7v1.7h-1.7zM207.9 366.65h1.7v1.7h-1.7zM215.15 367.27h1.7v1.7h-1.7zM194.15 368.53h1.7v1.7h-1.7zM197.9 371.03h1.7v1.7h-1.7zM234.77 371.03h1.7v1.7h-1.7zM238.53 372.27h1.7v1.7h-1.7zM207.65 373.53h1.7v1.7h-1.7zM210.65 373.53h1.7v1.7h-1.7zM207.27 377.27h1.7v1.7h-1.7zM232.27 377.9h1.7v1.7h-1.7z" fill="#838383"/></g>
<g><text x="272.6" y="239.7" font-size="13.5" font-weight="bold" stroke="#111" stroke-width="0.5">D</text><path d="M317.5 246.7V383.3H510.4" fill="none" stroke="#111" stroke-width="1.3"/><path d="M313.9 383.3H317.5M313.9 351.7H317.5M313.9 320.1H317.5M313.9 288.5H317.5M313.9 256.9H317.5M317.5 383.3V386.5M349.08 383.3V386.5M380.67 383.3V386.5M412.25 383.3V386.5M443.83 383.3V386.5M475.42 383.3V386.5M507 383.3V386.5" stroke="#111" stroke-width="1.2"/><text x="310.6" y="386.7" font-size="9.8" text-anchor="end" class="d" textLength="5.07" lengthAdjust="spacingAndGlyphs">0</text><text x="310.6" y="355.1" font-size="9.8" text-anchor="end" class="d" textLength="10.13" lengthAdjust="spacingAndGlyphs">15</text><text x="310.6" y="323.5" font-size="9.8" text-anchor="end" class="d" textLength="10.13" lengthAdjust="spacingAndGlyphs">30</text><text x="310.6" y="291.9" font-size="9.8" text-anchor="end" class="d" textLength="10.13" lengthAdjust="spacingAndGlyphs">45</text><text x="310.6" y="260.3" font-size="9.8" text-anchor="end" class="d" textLength="10.13" lengthAdjust="spacingAndGlyphs">60</text><text x="317.5" y="398.5" font-size="9.8" text-anchor="middle" class="d" textLength="5.07" lengthAdjust="spacingAndGlyphs">0</text><text x="349.08" y="398.5" font-size="9.8" text-anchor="middle" class="d" textLength="5.07" lengthAdjust="spacingAndGlyphs">6</text><text x="380.67" y="398.5" font-size="9.8" text-anchor="middle" class="d" textLength="10.13" lengthAdjust="spacingAndGlyphs">12</text><text x="412.25" y="398.5" font-size="9.8" text-anchor="middle" class="d" textLength="10.13" lengthAdjust="spacingAndGlyphs">18</text><text x="443.83" y="398.5" font-size="9.8" text-anchor="middle" class="d" textLength="10.13" lengthAdjust="spacingAndGlyphs">24</text><text x="475.42" y="398.5" font-size="9.8" text-anchor="middle" class="d" textLength="10.13" lengthAdjust="spacingAndGlyphs">30</text><text x="507" y="398.5" font-size="9.8" text-anchor="middle" class="d" textLength="10.13" lengthAdjust="spacingAndGlyphs">36</text><text x="413.95" y="412.7" font-size="10.5" text-anchor="middle" class="s" textLength="46" lengthAdjust="spacingAndGlyphs">EFS (months)</text><text transform="translate(281.8 314.55) rotate(-90)" x="0" y="0" font-size="10.8" text-anchor="middle" class="s" textLength="88.3" lengthAdjust="spacingAndGlyphs">Blood product transfusions</text><text transform="translate(293.9 314.85) rotate(-90)" x="0" y="0" font-size="10.8" text-anchor="middle" class="s" textLength="46.3" lengthAdjust="spacingAndGlyphs">per OS month</text><text x="457.5" y="270.9" font-size="8.5" class="t">r = -0.20</text><text x="457.5" y="283.7" font-size="8.5" class="t">p&lt;0.001</text><line x1="324.3" y1="353.9" x2="496.6" y2="375.3" stroke="#b3122e" stroke-width="1.8"/><path d="M331.4 269.53h1.7v1.7h-1.7zM349.65 269.77h1.7v1.7h-1.7zM354.03 266.03h1.7v1.7h-1.7zM358.9 268.77h1.7v1.7h-1.7zM378.65 272.9h1.7v1.7h-1.7zM333.4 297.27h1.7v1.7h-1.7zM345.53 297.9h1.7v1.7h-1.7zM349.65 298.15h1.7v1.7h-1.7zM356.53 295.65h1.7v1.7h-1.7zM373.9 304.9h1.7v1.7h-1.7zM377.15 307.65h1.7v1.7h-1.7zM374.4 310.65h1.7v1.7h-1.7zM336.15 310.15h1.7v1.7h-1.7zM340.53 313.9h1.7v1.7h-1.7zM368.65 313.9h1.7v1.7h-1.7zM397.65 264.4h1.7v1.7h-1.7zM428.65 269.15h1.7v1.7h-1.7zM340.53 314.77h1.7v1.7h-1.7zM368.03 314.77h1.7v1.7h-1.7zM341.77 321.9h1.7v1.7h-1.7zM346.15 320.65h1.7v1.7h-1.7zM349.65 319.4h1.7v1.7h-1.7zM366.77 324.77h1.7v1.7h-1.7zM371.77 323.15h1.7v1.7h-1.7zM373.4 325.15h1.7v1.7h-1.7zM361.4 327.9h1.7v1.7h-1.7zM353.65 330.65h1.7v1.7h-1.7zM353.9 333.9h1.7v1.7h-1.7zM354.27 336.9h1.7v1.7h-1.7zM371.15 332.9h1.7v1.7h-1.7zM377.4 335.4h1.7v1.7h-1.7zM378.4 337.65h1.7v1.7h-1.7zM334.9 336.03h1.7v1.7h-1.7zM338.03 340.03h1.7v1.7h-1.7zM346.4 340.65h1.7v1.7h-1.7zM362.4 338.53h1.7v1.7h-1.7zM371.15 338.53h1.7v1.7h-1.7zM375.53 341.9h1.7v1.7h-1.7zM378.65 341.03h1.7v1.7h-1.7zM332.4 342.65h1.7v1.7h-1.7zM333.65 344.77h1.7v1.7h-1.7zM359.9 346.03h1.7v1.7h-1.7zM361.15 345.4h1.7v1.7h-1.7zM366.15 346.03h1.7v1.7h-1.7zM366.15 347.9h1.7v1.7h-1.7zM371.15 346.9h1.7v1.7h-1.7zM373.03 346.4h1.7v1.7h-1.7zM376.77 348.15h1.7v1.7h-1.7zM378.65 344.77h1.7v1.7h-1.7zM337.15 349.77h1.7v1.7h-1.7zM346.15 348.15h1.7v1.7h-1.7zM345.15 348.9h1.7v1.7h-1.7zM354.9 349.4h1.7v1.7h-1.7zM356.77 350.15h1.7v1.7h-1.7zM359.27 352.27h1.7v1.7h-1.7zM363.65 350.15h1.7v1.7h-1.7zM369.27 351.03h1.7v1.7h-1.7zM373.03 351.03h1.7v1.7h-1.7zM327.65 351.65h1.7v1.7h-1.7zM330.53 356.65h1.7v1.7h-1.7zM334.9 354.77h1.7v1.7h-1.7zM339.9 354.77h1.7v1.7h-1.7zM341.77 355.4h1.7v1.7h-1.7zM342.4 358.15h1.7v1.7h-1.7zM363.4 358.15h1.7v1.7h-1.7zM373.03 358.53h1.7v1.7h-1.7zM324.27 361.65h1.7v1.7h-1.7zM324.9 363.53h1.7v1.7h-1.7zM333.03 361.03h1.7v1.7h-1.7zM336.15 359.77h1.7v1.7h-1.7zM338.65 361.65h1.7v1.7h-1.7zM339.65 363.15h1.7v1.7h-1.7zM339.9 364.15h1.7v1.7h-1.7zM335.53 364.77h1.7v1.7h-1.7zM328.03 366.03h1.7v1.7h-1.7zM332.4 365.65h1.7v1.7h-1.7zM346.77 364.77h1.7v1.7h-1.7zM348.03 364.4h1.7v1.7h-1.7zM352.4 363.15h1.7v1.7h-1.7zM353.65 366.4h1.7v1.7h-1.7zM355.53 364.15h1.7v1.7h-1.7zM357.4 365.4h1.7v1.7h-1.7zM358.65 364.77h1.7v1.7h-1.7zM359.27 366.65h1.7v1.7h-1.7zM356.77 367.9h1.7v1.7h-1.7zM365.53 362.27h1.7v1.7h-1.7zM368.65 361.4h1.7v1.7h-1.7zM369.9 363.15h1.7v1.7h-1.7zM366.77 366.65h1.7v1.7h-1.7zM368.03 365.4h1.7v1.7h-1.7zM371.15 365.4h1.7v1.7h-1.7zM329.9 371.65h1.7v1.7h-1.7zM333.65 372.27h1.7v1.7h-1.7zM334.9 372.27h1.7v1.7h-1.7zM339.27 369.15h1.7v1.7h-1.7zM341.15 371.03h1.7v1.7h-1.7zM341.77 372.27h1.7v1.7h-1.7zM342.4 372.9h1.7v1.7h-1.7zM344.9 371.03h1.7v1.7h-1.7zM346.15 371.65h1.7v1.7h-1.7zM348.4 370.4h1.7v1.7h-1.7zM349.27 371.9h1.7v1.7h-1.7zM349.9 370.65h1.7v1.7h-1.7zM358.03 369.77h1.7v1.7h-1.7zM361.77 368.15h1.7v1.7h-1.7zM362.4 371.4h1.7v1.7h-1.7zM363.65 372.27h1.7v1.7h-1.7zM367.4 369.77h1.7v1.7h-1.7zM371.15 372.9h1.7v1.7h-1.7zM331.15 375.4h1.7v1.7h-1.7zM334.9 375.4h1.7v1.7h-1.7zM335.53 376.65h1.7v1.7h-1.7zM338.03 375.4h1.7v1.7h-1.7zM341.77 375.4h1.7v1.7h-1.7zM343.03 376.65h1.7v1.7h-1.7zM346.15 374.77h1.7v1.7h-1.7zM349.27 375.4h1.7v1.7h-1.7zM352.4 374.77h1.7v1.7h-1.7zM358.03 374.15h1.7v1.7h-1.7zM359.9 376.03h1.7v1.7h-1.7zM361.15 376.65h1.7v1.7h-1.7zM370.53 376.65h1.7v1.7h-1.7zM372.4 376.03h1.7v1.7h-1.7zM373.65 375.4h1.7v1.7h-1.7zM377.4 373.9h1.7v1.7h-1.7zM334.9 378.53h1.7v1.7h-1.7zM343.03 379.15h1.7v1.7h-1.7zM346.77 377.9h1.7v1.7h-1.7zM353.03 379.15h1.7v1.7h-1.7zM364.9 380.4h1.7v1.7h-1.7zM366.15 379.77h1.7v1.7h-1.7zM336.15 381.03h1.7v1.7h-1.7zM356.15 380.4h1.7v1.7h-1.7zM379.9 377.27h1.7v1.7h-1.7zM400.15 316.65h1.7v1.7h-1.7zM383.4 326.03h1.7v1.7h-1.7zM390.15 326.27h1.7v1.7h-1.7zM413.4 327.9h1.7v1.7h-1.7zM381.77 331.03h1.7v1.7h-1.7zM393.4 332.65h1.7v1.7h-1.7zM385.53 333.9h1.7v1.7h-1.7zM387.15 333.15h1.7v1.7h-1.7zM383.4 335.65h1.7v1.7h-1.7zM383.03 341.9h1.7v1.7h-1.7zM385.15 341.03h1.7v1.7h-1.7zM403.9 341.4h1.7v1.7h-1.7zM406.77 343.9h1.7v1.7h-1.7zM409.27 341.03h1.7v1.7h-1.7zM409.9 339.77h1.7v1.7h-1.7zM425.15 340.65h1.7v1.7h-1.7zM400.15 348.9h1.7v1.7h-1.7zM391.4 353.15h1.7v1.7h-1.7zM386.4 356.03h1.7v1.7h-1.7zM381.77 357.9h1.7v1.7h-1.7zM406.77 357.65h1.7v1.7h-1.7zM438.65 357.9h1.7v1.7h-1.7zM415.9 359.77h1.7v1.7h-1.7zM417.4 361.4h1.7v1.7h-1.7zM407.4 361.4h1.7v1.7h-1.7zM382.4 364.77h1.7v1.7h-1.7zM383.03 363.53h1.7v1.7h-1.7zM403.9 364.77h1.7v1.7h-1.7zM423.65 364.77h1.7v1.7h-1.7zM426.77 365.15h1.7v1.7h-1.7zM436.15 364.4h1.7v1.7h-1.7zM442.4 364.15h1.7v1.7h-1.7zM444.27 362.27h1.7v1.7h-1.7zM389.9 366.9h1.7v1.7h-1.7zM399.9 366.4h1.7v1.7h-1.7zM383.9 369.4h1.7v1.7h-1.7zM404.27 368.9h1.7v1.7h-1.7zM408.4 369.77h1.7v1.7h-1.7zM408.03 371.65h1.7v1.7h-1.7zM434.9 369.15h1.7v1.7h-1.7zM430.53 370.65h1.7v1.7h-1.7zM430.53 372.27h1.7v1.7h-1.7zM444.27 370.65h1.7v1.7h-1.7zM385.15 373.15h1.7v1.7h-1.7zM389.27 372.9h1.7v1.7h-1.7zM388.65 375.4h1.7v1.7h-1.7zM386.77 376.4h1.7v1.7h-1.7zM389.9 377.9h1.7v1.7h-1.7zM397.4 376.65h1.7v1.7h-1.7zM400.53 375.15h1.7v1.7h-1.7zM409.27 374.77h1.7v1.7h-1.7zM413.03 375.15h1.7v1.7h-1.7zM415.53 375.15h1.7v1.7h-1.7zM423.03 375.65h1.7v1.7h-1.7zM429.27 375.65h1.7v1.7h-1.7zM393.03 379.4h1.7v1.7h-1.7zM401.15 378.9h1.7v1.7h-1.7zM401.15 379.77h1.7v1.7h-1.7zM408.03 378.9h1.7v1.7h-1.7zM415.53 378.9h1.7v1.7h-1.7zM418.03 378.9h1.7v1.7h-1.7zM422.4 378.15h1.7v1.7h-1.7zM428.03 379.15h1.7v1.7h-1.7zM431.15 378.9h1.7v1.7h-1.7zM437.4 379.15h1.7v1.7h-1.7zM444.27 378.53h1.7v1.7h-1.7zM385.53 381.03h1.7v1.7h-1.7zM397.4 381.65h1.7v1.7h-1.7zM475.15 358.53h1.7v1.7h-1.7zM491.77 356.9h1.7v1.7h-1.7zM450.9 365.15h1.7v1.7h-1.7zM452.15 368.9h1.7v1.7h-1.7zM454.27 372.9h1.7v1.7h-1.7zM463.03 371.03h1.7v1.7h-1.7zM465.53 371.65h1.7v1.7h-1.7zM468.03 371.9h1.7v1.7h-1.7zM473.03 371.03h1.7v1.7h-1.7zM478.03 372.27h1.7v1.7h-1.7zM492.4 371.4h1.7v1.7h-1.7zM451.4 375.65h1.7v1.7h-1.7zM449.65 379.4h1.7v1.7h-1.7zM459.27 378.15h1.7v1.7h-1.7zM464.65 378.53h1.7v1.7h-1.7zM465.53 379.15h1.7v1.7h-1.7zM467.65 377.27h1.7v1.7h-1.7zM496.15 378.53h1.7v1.7h-1.7zM456.15 381.65h1.7v1.7h-1.7z" fill="#838383"/></g>
<g><text x="9.6" y="446.3" font-size="13.5" font-weight="bold" stroke="#111" stroke-width="0.5">E</text><path d="M59.6 453.3V578.2H252.7" fill="none" stroke="#111" stroke-width="1.3"/><path d="M56 578.2H59.6M56 555.2H59.6M56 532.2H59.6M56 509.2H59.6M56 486.2H59.6M56 463.2H59.6M59.6 578.2V581.4M91.2 578.2V581.4M122.8 578.2V581.4M154.4 578.2V581.4M186 578.2V581.4M217.6 578.2V581.4M249.2 578.2V581.4" stroke="#111" stroke-width="1.2"/><text x="52.7" y="581.6" font-size="9.8" text-anchor="end" class="d" textLength="5.07" lengthAdjust="spacingAndGlyphs">0</text><text x="52.7" y="558.6" font-size="9.8" text-anchor="end" class="d" textLength="5.07" lengthAdjust="spacingAndGlyphs">1</text><text x="52.7" y="535.6" font-size="9.8" text-anchor="end" class="d" textLength="5.07" lengthAdjust="spacingAndGlyphs">2</text><text x="52.7" y="512.6" font-size="9.8" text-anchor="end" class="d" textLength="5.07" lengthAdjust="spacingAndGlyphs">3</text><text x="52.7" y="489.6" font-size="9.8" text-anchor="end" class="d" textLength="5.07" lengthAdjust="spacingAndGlyphs">4</text><text x="52.7" y="466.6" font-size="9.8" text-anchor="end" class="d" textLength="5.07" lengthAdjust="spacingAndGlyphs">5</text><text x="59.6" y="593.4" font-size="9.8" text-anchor="middle" class="d" textLength="5.07" lengthAdjust="spacingAndGlyphs">0</text><text x="91.2" y="593.4" font-size="9.8" text-anchor="middle" class="d" textLength="5.07" lengthAdjust="spacingAndGlyphs">6</text><text x="122.8" y="593.4" font-size="9.8" text-anchor="middle" class="d" textLength="10.13" lengthAdjust="spacingAndGlyphs">12</text><text x="154.4" y="593.4" font-size="9.8" text-anchor="middle" class="d" textLength="10.13" lengthAdjust="spacingAndGlyphs">18</text><text x="186" y="593.4" font-size="9.8" text-anchor="middle" class="d" textLength="10.13" lengthAdjust="spacingAndGlyphs">24</text><text x="217.6" y="593.4" font-size="9.8" text-anchor="middle" class="d" textLength="10.13" lengthAdjust="spacingAndGlyphs">30</text><text x="249.2" y="593.4" font-size="9.8" text-anchor="middle" class="d" textLength="10.13" lengthAdjust="spacingAndGlyphs">36</text><text x="156.15" y="607.3" font-size="10.5" text-anchor="middle" class="s" textLength="46" lengthAdjust="spacingAndGlyphs">EFS (months)</text><text transform="translate(41 515.65) rotate(-90)" x="0" y="0" font-size="10.8" text-anchor="middle" class="s" textLength="99.3" lengthAdjust="spacingAndGlyphs">Hospitalizations per OS month</text><text x="199.4" y="465.7" font-size="8.5" class="t">r = -0.36</text><text x="199.4" y="478.4" font-size="8.5" class="t">p&lt;0.001</text><line x1="66.9" y1="562.3" x2="234" y2="577.5" stroke="#b3122e" stroke-width="1.8"/><path d="M96.7 455.3h1.1v1.9h-1.1zM78.83 522.17h1.1v1.9h-1.1zM77.95 531.3h1.1v1.9h-1.1zM78.83 540.3h1.1v1.9h-1.1zM66.33 542.8h1.1v1.9h-1.1zM76.33 547.43h1.1v1.9h-1.1zM87.95 547.43h1.1v1.9h-1.1zM96.33 547.43h1.1v1.9h-1.1zM97.57 547.43h1.1v1.9h-1.1zM83.45 549.67h1.1v1.9h-1.1zM79.2 551.55h1.1v1.9h-1.1zM80.07 551.55h1.1v1.9h-1.1zM70.45 554.3h1.1v1.9h-1.1zM73.2 554.3h1.1v1.9h-1.1zM75.07 554.3h1.1v1.9h-1.1zM76.7 554.3h1.1v1.9h-1.1zM91.33 554.3h1.1v1.9h-1.1zM92.57 554.3h1.1v1.9h-1.1zM110.95 554.3h1.1v1.9h-1.1zM71.33 556.55h1.1v1.9h-1.1zM75.07 556.55h1.1v1.9h-1.1zM78.83 556.55h1.1v1.9h-1.1zM82.95 556.55h1.1v1.9h-1.1zM84.45 556.55h1.1v1.9h-1.1zM88.45 556.55h1.1v1.9h-1.1zM108.83 556.55h1.1v1.9h-1.1zM72.57 558.67h1.1v1.9h-1.1zM78.83 558.67h1.1v1.9h-1.1zM85.07 558.67h1.1v1.9h-1.1zM100.07 558.67h1.1v1.9h-1.1zM105.07 558.67h1.1v1.9h-1.1zM112.57 558.67h1.1v1.9h-1.1zM113.83 558.67h1.1v1.9h-1.1zM73.83 560.93h1.1v1.9h-1.1zM79.45 560.93h1.1v1.9h-1.1zM81.33 560.93h1.1v1.9h-1.1zM82.57 560.93h1.1v1.9h-1.1zM100.7 560.93h1.1v1.9h-1.1zM101.95 560.93h1.1v1.9h-1.1zM105.07 560.93h1.1v1.9h-1.1zM107.57 560.93h1.1v1.9h-1.1zM111.33 560.93h1.1v1.9h-1.1zM116.33 560.93h1.1v1.9h-1.1zM120.07 560.93h1.1v1.9h-1.1zM67.95 563.43h1.1v1.9h-1.1zM78.2 563.43h1.1v1.9h-1.1zM80.7 563.43h1.1v1.9h-1.1zM86.33 563.43h1.1v1.9h-1.1zM89.45 563.43h1.1v1.9h-1.1zM92.95 563.43h1.1v1.9h-1.1zM97.57 563.43h1.1v1.9h-1.1zM99.45 563.43h1.1v1.9h-1.1zM113.2 563.43h1.1v1.9h-1.1zM121.95 563.43h1.1v1.9h-1.1zM123.83 563.43h1.1v1.9h-1.1zM70.7 565.55h1.1v1.9h-1.1zM75.7 565.55h1.1v1.9h-1.1zM76.95 565.55h1.1v1.9h-1.1zM78.2 565.55h1.1v1.9h-1.1zM81.33 565.55h1.1v1.9h-1.1zM82.57 565.55h1.1v1.9h-1.1zM84.45 565.55h1.1v1.9h-1.1zM89.45 565.55h1.1v1.9h-1.1zM93.83 565.55h1.1v1.9h-1.1zM96.33 565.55h1.1v1.9h-1.1zM100.07 565.55h1.1v1.9h-1.1zM106.95 565.55h1.1v1.9h-1.1zM109.45 565.55h1.1v1.9h-1.1zM116.33 565.55h1.1v1.9h-1.1zM120.7 565.55h1.1v1.9h-1.1zM73.2 568.05h1.1v1.9h-1.1zM85.7 568.05h1.1v1.9h-1.1zM95.07 568.05h1.1v1.9h-1.1zM96.33 568.05h1.1v1.9h-1.1zM96.95 568.05h1.1v1.9h-1.1zM101.33 568.05h1.1v1.9h-1.1zM106.33 568.05h1.1v1.9h-1.1zM107.57 568.05h1.1v1.9h-1.1zM108.83 568.05h1.1v1.9h-1.1zM111.95 568.05h1.1v1.9h-1.1zM115.07 568.05h1.1v1.9h-1.1zM116.33 568.05h1.1v1.9h-1.1zM121.7 568.05h1.1v1.9h-1.1zM75.07 570.3h1.1v1.9h-1.1zM76.95 570.3h1.1v1.9h-1.1zM78.2 570.3h1.1v1.9h-1.1zM84.45 570.3h1.1v1.9h-1.1zM87.57 570.3h1.1v1.9h-1.1zM90.7 570.3h1.1v1.9h-1.1zM93.83 570.3h1.1v1.9h-1.1zM95.7 570.3h1.1v1.9h-1.1zM99.45 570.3h1.1v1.9h-1.1zM101.95 570.3h1.1v1.9h-1.1zM104.45 570.3h1.1v1.9h-1.1zM110.07 570.3h1.1v1.9h-1.1zM111.33 570.3h1.1v1.9h-1.1zM116.95 570.3h1.1v1.9h-1.1zM118.2 570.3h1.1v1.9h-1.1zM120.07 570.3h1.1v1.9h-1.1zM80.7 572.43h1.1v1.9h-1.1zM83.2 572.43h1.1v1.9h-1.1zM84.45 572.43h1.1v1.9h-1.1zM85.7 572.43h1.1v1.9h-1.1zM89.45 572.43h1.1v1.9h-1.1zM90.7 572.43h1.1v1.9h-1.1zM91.95 572.43h1.1v1.9h-1.1zM93.2 572.43h1.1v1.9h-1.1zM94.45 572.43h1.1v1.9h-1.1zM96.95 572.43h1.1v1.9h-1.1zM101.33 572.43h1.1v1.9h-1.1zM103.2 572.43h1.1v1.9h-1.1zM107.57 572.43h1.1v1.9h-1.1zM108.83 572.43h1.1v1.9h-1.1zM113.2 572.43h1.1v1.9h-1.1zM114.45 572.43h1.1v1.9h-1.1zM117.57 572.43h1.1v1.9h-1.1zM121.95 572.43h1.1v1.9h-1.1zM81.95 574.93h1.1v1.9h-1.1zM88.2 574.93h1.1v1.9h-1.1zM95.7 574.93h1.1v1.9h-1.1zM98.2 574.93h1.1v1.9h-1.1zM100.7 574.93h1.1v1.9h-1.1zM101.95 574.93h1.1v1.9h-1.1zM103.2 574.93h1.1v1.9h-1.1zM104.45 574.93h1.1v1.9h-1.1zM113.2 574.93h1.1v1.9h-1.1zM116.95 574.93h1.1v1.9h-1.1zM126.33 554.3h1.1v1.9h-1.1zM187.57 554.3h1.1v1.9h-1.1zM130.45 556.55h1.1v1.9h-1.1zM132.95 556.55h1.1v1.9h-1.1zM132.2 558.8h1.1v1.9h-1.1zM136.33 561.17h1.1v1.9h-1.1zM125.07 563.43h1.1v1.9h-1.1zM131.7 565.55h1.1v1.9h-1.1zM136.33 565.55h1.1v1.9h-1.1zM149.45 565.55h1.1v1.9h-1.1zM151.95 565.55h1.1v1.9h-1.1zM157.95 565.55h1.1v1.9h-1.1zM166.33 565.55h1.1v1.9h-1.1zM171.33 565.55h1.1v1.9h-1.1zM174.45 565.55h1.1v1.9h-1.1zM178.83 565.55h1.1v1.9h-1.1zM186.95 565.55h1.1v1.9h-1.1zM126.33 568.05h1.1v1.9h-1.1zM134.45 568.05h1.1v1.9h-1.1zM143.2 568.05h1.1v1.9h-1.1zM146.95 568.05h1.1v1.9h-1.1zM150.07 568.05h1.1v1.9h-1.1zM152.57 568.05h1.1v1.9h-1.1zM158.2 568.05h1.1v1.9h-1.1zM177.57 568.05h1.1v1.9h-1.1zM180.7 568.05h1.1v1.9h-1.1zM186.95 568.05h1.1v1.9h-1.1zM128.2 570.3h1.1v1.9h-1.1zM130.07 570.3h1.1v1.9h-1.1zM140.07 570.3h1.1v1.9h-1.1zM143.2 570.3h1.1v1.9h-1.1zM156.33 570.3h1.1v1.9h-1.1zM160.07 570.3h1.1v1.9h-1.1zM168.2 570.3h1.1v1.9h-1.1zM173.2 570.3h1.1v1.9h-1.1zM125.07 572.43h1.1v1.9h-1.1zM126.33 572.43h1.1v1.9h-1.1zM127.57 572.43h1.1v1.9h-1.1zM128.83 572.43h1.1v1.9h-1.1zM132.57 572.43h1.1v1.9h-1.1zM143.2 572.43h1.1v1.9h-1.1zM150.7 572.43h1.1v1.9h-1.1zM169.45 572.43h1.1v1.9h-1.1zM170.7 572.43h1.1v1.9h-1.1zM181.95 572.43h1.1v1.9h-1.1zM186.95 572.43h1.1v1.9h-1.1zM128.83 574.93h1.1v1.9h-1.1zM131.95 574.93h1.1v1.9h-1.1zM135.7 574.93h1.1v1.9h-1.1zM140.07 574.93h1.1v1.9h-1.1zM143.2 574.93h1.1v1.9h-1.1zM144.45 574.93h1.1v1.9h-1.1zM145.7 574.93h1.1v1.9h-1.1zM146.95 574.93h1.1v1.9h-1.1zM150.07 574.93h1.1v1.9h-1.1zM151.33 574.93h1.1v1.9h-1.1zM156.33 574.93h1.1v1.9h-1.1zM157.57 574.93h1.1v1.9h-1.1zM159.45 574.93h1.1v1.9h-1.1zM165.7 574.93h1.1v1.9h-1.1zM173.2 574.93h1.1v1.9h-1.1zM185.07 574.93h1.1v1.9h-1.1zM186.95 574.93h1.1v1.9h-1.1zM194.2 563.43h1.1v1.9h-1.1zM193.83 570.3h1.1v1.9h-1.1zM205.45 570.3h1.1v1.9h-1.1zM208.2 570.3h1.1v1.9h-1.1zM215.7 568.05h1.1v1.9h-1.1zM191.33 572.43h1.1v1.9h-1.1zM195.07 572.43h1.1v1.9h-1.1zM197.95 572.43h1.1v1.9h-1.1zM217.95 572.43h1.1v1.9h-1.1zM220.95 572.43h1.1v1.9h-1.1zM234.45 572.43h1.1v1.9h-1.1zM235.45 572.43h1.1v1.9h-1.1zM238.83 572.43h1.1v1.9h-1.1zM196.95 574.93h1.1v1.9h-1.1zM198.83 574.93h1.1v1.9h-1.1zM201.95 574.93h1.1v1.9h-1.1zM208.2 574.93h1.1v1.9h-1.1zM210.7 574.93h1.1v1.9h-1.1zM232.57 574.93h1.1v1.9h-1.1z" fill="#838383"/></g>
<g><text x="272.6" y="444.3" font-size="13.5" font-weight="bold" stroke="#111" stroke-width="0.5">F</text><path d="M317.4 451.3V578H510.6" fill="none" stroke="#111" stroke-width="1.3"/><path d="M313.8 578H317.4M313.8 527.5H317.4M313.8 477H317.4M317.4 578V581.2M349.05 578V581.2M380.7 578V581.2M412.35 578V581.2M444 578V581.2M475.65 578V581.2M507.3 578V581.2" stroke="#111" stroke-width="1.2"/><text x="310.5" y="581.4" font-size="9.8" text-anchor="end" class="d" textLength="5.07" lengthAdjust="spacingAndGlyphs">0</text><text x="310.5" y="530.9" font-size="9.8" text-anchor="end" class="d" textLength="5.07" lengthAdjust="spacingAndGlyphs">1</text><text x="310.5" y="480.4" font-size="9.8" text-anchor="end" class="d" textLength="5.07" lengthAdjust="spacingAndGlyphs">2</text><text x="317.4" y="593.2" font-size="9.8" text-anchor="middle" class="d" textLength="5.07" lengthAdjust="spacingAndGlyphs">0</text><text x="349.05" y="593.2" font-size="9.8" text-anchor="middle" class="d" textLength="5.07" lengthAdjust="spacingAndGlyphs">6</text><text x="380.7" y="593.2" font-size="9.8" text-anchor="middle" class="d" textLength="10.13" lengthAdjust="spacingAndGlyphs">12</text><text x="412.35" y="593.2" font-size="9.8" text-anchor="middle" class="d" textLength="10.13" lengthAdjust="spacingAndGlyphs">18</text><text x="444" y="593.2" font-size="9.8" text-anchor="middle" class="d" textLength="10.13" lengthAdjust="spacingAndGlyphs">24</text><text x="475.65" y="593.2" font-size="9.8" text-anchor="middle" class="d" textLength="10.13" lengthAdjust="spacingAndGlyphs">30</text><text x="507.3" y="593.2" font-size="9.8" text-anchor="middle" class="d" textLength="10.13" lengthAdjust="spacingAndGlyphs">36</text><text x="414" y="607.5" font-size="10.5" text-anchor="middle" class="s" textLength="46" lengthAdjust="spacingAndGlyphs">EFS (months)</text><text transform="translate(299.5 514.85) rotate(-90)" x="0" y="0" font-size="10.8" text-anchor="middle" class="s" textLength="76.5" lengthAdjust="spacingAndGlyphs">ER visits per OS month</text><text x="457.5" y="465.7" font-size="8.5" class="t">r = -0.17</text><text x="457.5" y="478.4" font-size="8.5" class="t" textLength="32.6" lengthAdjust="spacingAndGlyphs">p=0.003</text><line x1="324.4" y1="562.3" x2="496.6" y2="574.1" stroke="#b3122e" stroke-width="1.8"/><path d="M336.45 465.93h1.1v1.9h-1.1zM345.45 486.17h1.1v1.9h-1.1zM332.7 501.3h1.1v1.9h-1.1zM362.7 501.3h1.1v1.9h-1.1zM350.2 506.3h1.1v1.9h-1.1zM355.45 511.3h1.1v1.9h-1.1zM393.7 511.3h1.1v1.9h-1.1zM335.2 521.55h1.1v1.9h-1.1zM336.45 521.55h1.1v1.9h-1.1zM337.7 521.55h1.1v1.9h-1.1zM338.95 521.55h1.1v1.9h-1.1zM341.2 521.55h1.1v1.9h-1.1zM348.7 526.55h1.1v1.9h-1.1zM374.2 526.55h1.1v1.9h-1.1zM373.95 531.8h1.1v1.9h-1.1zM355.45 536.8h1.1v1.9h-1.1zM337.07 541.8h1.1v1.9h-1.1zM352.95 541.8h1.1v1.9h-1.1zM354.2 541.8h1.1v1.9h-1.1zM371.45 541.8h1.1v1.9h-1.1zM333.95 546.8h1.1v1.9h-1.1zM345.83 546.8h1.1v1.9h-1.1zM346.7 546.8h1.1v1.9h-1.1zM370.45 546.8h1.1v1.9h-1.1zM377.7 546.8h1.1v1.9h-1.1zM328.07 551.8h1.1v1.9h-1.1zM339.95 551.8h1.1v1.9h-1.1zM343.7 551.8h1.1v1.9h-1.1zM349.2 551.8h1.1v1.9h-1.1zM353.7 551.8h1.1v1.9h-1.1zM357.45 551.8h1.1v1.9h-1.1zM358.95 551.8h1.1v1.9h-1.1zM360.45 551.8h1.1v1.9h-1.1zM362.07 551.8h1.1v1.9h-1.1zM373.95 551.8h1.1v1.9h-1.1zM328.95 556.93h1.1v1.9h-1.1zM333.95 556.93h1.1v1.9h-1.1zM337.07 556.93h1.1v1.9h-1.1zM342.7 556.93h1.1v1.9h-1.1zM346.45 556.93h1.1v1.9h-1.1zM359.2 556.93h1.1v1.9h-1.1zM362.7 556.93h1.1v1.9h-1.1zM363.95 556.93h1.1v1.9h-1.1zM367.07 556.93h1.1v1.9h-1.1zM368.33 556.93h1.1v1.9h-1.1zM369.57 556.93h1.1v1.9h-1.1zM371.45 556.93h1.1v1.9h-1.1zM372.7 556.93h1.1v1.9h-1.1zM378.95 556.93h1.1v1.9h-1.1zM335.2 561.93h1.1v1.9h-1.1zM336.45 561.93h1.1v1.9h-1.1zM337.7 561.93h1.1v1.9h-1.1zM342.07 561.93h1.1v1.9h-1.1zM350.83 561.93h1.1v1.9h-1.1zM357.07 561.93h1.1v1.9h-1.1zM358.33 561.93h1.1v1.9h-1.1zM359.57 561.93h1.1v1.9h-1.1zM365.45 561.93h1.1v1.9h-1.1zM366.45 561.93h1.1v1.9h-1.1zM368.95 561.93h1.1v1.9h-1.1zM372.07 561.93h1.1v1.9h-1.1zM373.33 561.93h1.1v1.9h-1.1zM376.2 561.93h1.1v1.9h-1.1zM377.7 561.93h1.1v1.9h-1.1zM378.95 561.93h1.1v1.9h-1.1zM380.2 561.93h1.1v1.9h-1.1zM335.83 566.93h1.1v1.9h-1.1zM338.33 566.93h1.1v1.9h-1.1zM339.33 566.93h1.1v1.9h-1.1zM341.45 566.93h1.1v1.9h-1.1zM342.7 566.93h1.1v1.9h-1.1zM343.7 566.93h1.1v1.9h-1.1zM348.33 566.93h1.1v1.9h-1.1zM349.57 566.93h1.1v1.9h-1.1zM352.07 566.93h1.1v1.9h-1.1zM353.33 566.93h1.1v1.9h-1.1zM354.95 566.93h1.1v1.9h-1.1zM358.95 566.93h1.1v1.9h-1.1zM360.2 566.93h1.1v1.9h-1.1zM364.57 566.93h1.1v1.9h-1.1zM366.45 566.93h1.1v1.9h-1.1zM368.7 566.93h1.1v1.9h-1.1zM369.95 566.93h1.1v1.9h-1.1zM373.33 566.93h1.1v1.9h-1.1zM374.2 566.93h1.1v1.9h-1.1zM377.07 566.93h1.1v1.9h-1.1zM378.7 566.93h1.1v1.9h-1.1zM331.45 571.93h1.1v1.9h-1.1zM333.95 571.93h1.1v1.9h-1.1zM335.2 571.93h1.1v1.9h-1.1zM337.07 571.93h1.1v1.9h-1.1zM339.57 571.93h1.1v1.9h-1.1zM340.83 571.93h1.1v1.9h-1.1zM347.07 571.93h1.1v1.9h-1.1zM348.33 571.93h1.1v1.9h-1.1zM350.2 571.93h1.1v1.9h-1.1zM352.7 571.93h1.1v1.9h-1.1zM353.95 571.93h1.1v1.9h-1.1zM355.2 571.93h1.1v1.9h-1.1zM356.45 571.93h1.1v1.9h-1.1zM357.7 571.93h1.1v1.9h-1.1zM358.95 571.93h1.1v1.9h-1.1zM360.2 571.93h1.1v1.9h-1.1zM361.7 571.93h1.1v1.9h-1.1zM362.7 571.93h1.1v1.9h-1.1zM363.95 571.93h1.1v1.9h-1.1zM365.2 571.93h1.1v1.9h-1.1zM366.45 571.93h1.1v1.9h-1.1zM368.95 571.93h1.1v1.9h-1.1zM370.2 571.93h1.1v1.9h-1.1zM371.45 571.93h1.1v1.9h-1.1zM372.7 571.93h1.1v1.9h-1.1zM373.95 571.93h1.1v1.9h-1.1zM374.95 571.93h1.1v1.9h-1.1zM378.33 571.93h1.1v1.9h-1.1zM402.95 526.55h1.1v1.9h-1.1zM390.45 536.8h1.1v1.9h-1.1zM387.45 541.8h1.1v1.9h-1.1zM389.57 541.8h1.1v1.9h-1.1zM383.95 546.8h1.1v1.9h-1.1zM387.95 546.8h1.1v1.9h-1.1zM428.95 551.8h1.1v1.9h-1.1zM431.7 556.93h1.1v1.9h-1.1zM438.95 556.93h1.1v1.9h-1.1zM445.2 556.93h1.1v1.9h-1.1zM383.33 561.93h1.1v1.9h-1.1zM384.2 561.93h1.1v1.9h-1.1zM404.2 561.93h1.1v1.9h-1.1zM413.7 561.93h1.1v1.9h-1.1zM416.45 561.93h1.1v1.9h-1.1zM417.7 561.93h1.1v1.9h-1.1zM425.45 561.93h1.1v1.9h-1.1zM435.2 561.93h1.1v1.9h-1.1zM382.07 566.93h1.1v1.9h-1.1zM383.33 566.93h1.1v1.9h-1.1zM387.07 566.93h1.1v1.9h-1.1zM388.95 566.93h1.1v1.9h-1.1zM391.45 566.93h1.1v1.9h-1.1zM400.83 566.93h1.1v1.9h-1.1zM408.33 566.93h1.1v1.9h-1.1zM409.57 566.93h1.1v1.9h-1.1zM415.2 566.93h1.1v1.9h-1.1zM427.07 566.93h1.1v1.9h-1.1zM430.83 566.93h1.1v1.9h-1.1zM445.2 566.93h1.1v1.9h-1.1zM382.7 571.93h1.1v1.9h-1.1zM383.95 571.93h1.1v1.9h-1.1zM385.2 571.93h1.1v1.9h-1.1zM386.45 571.93h1.1v1.9h-1.1zM390.2 571.93h1.1v1.9h-1.1zM391.45 571.93h1.1v1.9h-1.1zM392.7 571.93h1.1v1.9h-1.1zM393.95 571.93h1.1v1.9h-1.1zM397.7 571.93h1.1v1.9h-1.1zM399.57 571.93h1.1v1.9h-1.1zM400.83 571.93h1.1v1.9h-1.1zM403.33 571.93h1.1v1.9h-1.1zM404.57 571.93h1.1v1.9h-1.1zM407.07 571.93h1.1v1.9h-1.1zM408.33 571.93h1.1v1.9h-1.1zM409.57 571.93h1.1v1.9h-1.1zM415.2 571.93h1.1v1.9h-1.1zM416.2 571.93h1.1v1.9h-1.1zM423.33 571.93h1.1v1.9h-1.1zM430.83 571.93h1.1v1.9h-1.1zM436.45 571.93h1.1v1.9h-1.1zM442.7 571.93h1.1v1.9h-1.1zM443.95 571.93h1.1v1.9h-1.1zM451.7 551.8h1.1v1.9h-1.1zM451.2 561.93h1.1v1.9h-1.1zM459.57 561.93h1.1v1.9h-1.1zM463.33 561.93h1.1v1.9h-1.1zM473.33 561.93h1.1v1.9h-1.1zM448.33 566.93h1.1v1.9h-1.1zM452.45 566.93h1.1v1.9h-1.1zM465.83 566.93h1.1v1.9h-1.1zM468.33 566.93h1.1v1.9h-1.1zM478.7 566.93h1.1v1.9h-1.1zM454.57 571.93h1.1v1.9h-1.1zM455.45 571.93h1.1v1.9h-1.1zM465.2 571.93h1.1v1.9h-1.1zM468.7 571.93h1.1v1.9h-1.1zM475.45 571.93h1.1v1.9h-1.1zM492.07 571.93h1.1v1.9h-1.1zM496.45 571.93h1.1v1.9h-1.1z" fill="#838383"/><path d="M324 578H460" stroke="#8a8a8a" stroke-width="1.3" stroke-dasharray="2.2 1.3"/></g>
</svg>
</body></html>
